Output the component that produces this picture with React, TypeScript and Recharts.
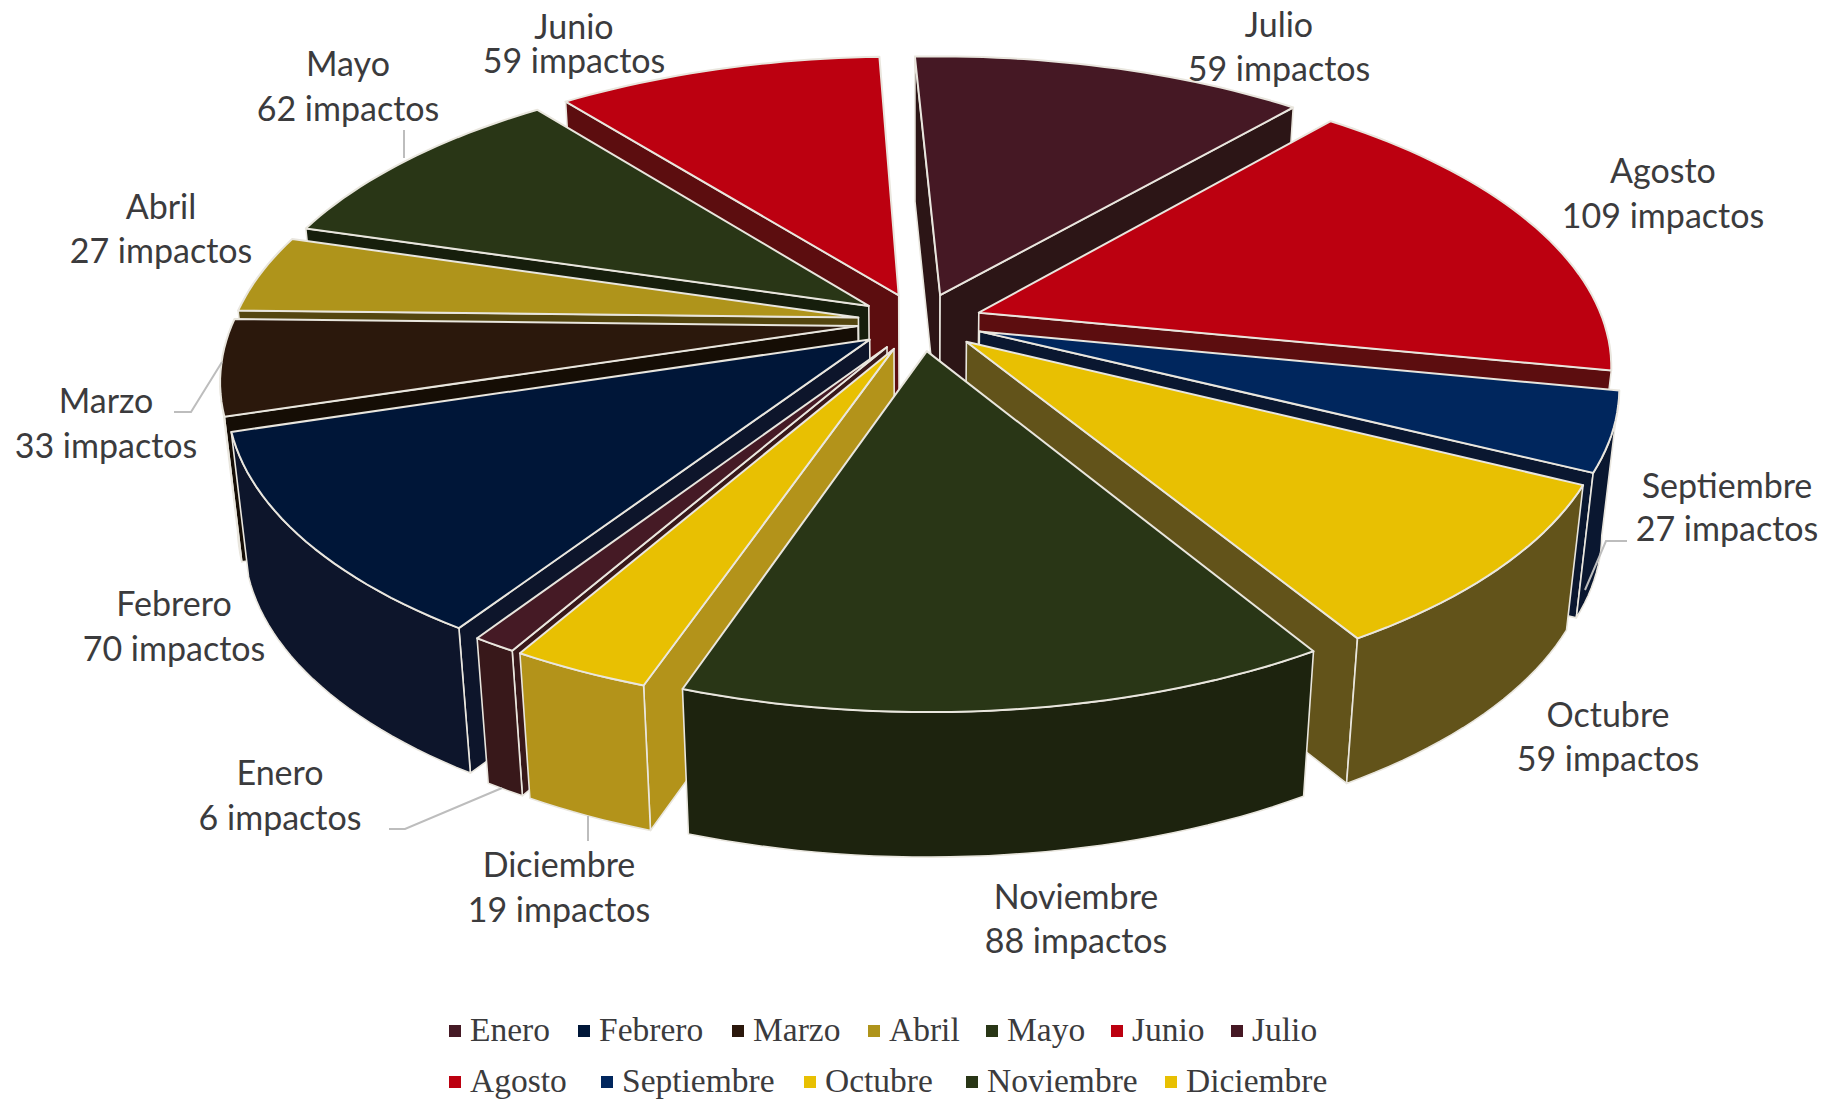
import React from 'react';
import { PieChart, Pie, Legend } from 'recharts';

const months = ['Enero', 'Febrero', 'Marzo', 'Abril', 'Mayo', 'Junio', 'Julio', 'Agosto', 'Septiembre', 'Octubre', 'Noviembre', 'Diciembre'];
// numbers printed on the labels
const impactos = [6, 70, 33, 27, 62, 59, 59, 109, 27, 59, 88, 19];
// sizes of the slices as measured on the drawing: these don't all agree with the labels
// (Julio is labelled 59 but drawn about 76 wide, Junio 59 but about 63)
const sliceValues = [6, 70, 33, 27, 62, 63, 76, 107, 27, 57, 88, 19];
const topColors = ['#451a25', '#001638', '#2b180c', '#af941b', '#293616', '#bc0010', '#451824', '#bc0010', '#00265d', '#e8c002', '#293616', '#e8c002'];
const sideColors = ['#38181a', '#0d152b', '#150d05', '#54460f', '#161e0c', '#5c0d0f', '#2c1516', '#5c0d0f', '#0a1730', '#62531a', '#1d230e', '#b3931a'];

// back to front, the slices overlap each other
const paintOrder = ['Julio', 'Junio', 'Mayo', 'Agosto', 'Abril', 'Marzo', 'Septiembre', 'Febrero', 'Octubre', 'Enero', 'Diciembre', 'Noviembre'];

const tableData = months.map((name, i) => ({ name, value: sliceValues[i], impactos: impactos[i] }));

const WIDTH = 1840;
const HEIGHT = 1101;
const CX = 920;
const CY = 322;
const RADIUS = 625;
const EXPLODE = 0.1;
const TILT = 0.461; // vertical squash of the pie plane
const PERSPECTIVE = 0.171;
const DEPTH = 145;
const BOTTOM_SCALE = 0.975;
const EDGE = '#e9e6de';
const LABEL_COLOR = '#3b3b3d';

// label centres and leader lines, by hand
const labelLayout: Record<string, { x: number; y1: number; y2: number; line?: string }> = {
  Enero: { x: 280, y1: 771, y2: 816, line: '389,829 405,829 502,788' },
  Febrero: { x: 174, y1: 602, y2: 647 },
  Marzo: { x: 106, y1: 399, y2: 444, line: '174,412 191,412 222,362' },
  Abril: { x: 161, y1: 205, y2: 249 },
  Mayo: { x: 348, y1: 62, y2: 107, line: '404,130 404,158' },
  Junio: { x: 574, y1: 25, y2: 59 },
  Julio: { x: 1279, y1: 23, y2: 67 },
  Agosto: { x: 1663, y1: 169, y2: 214 },
  Septiembre: { x: 1727, y1: 484, y2: 527, line: '1627,541 1606,541 1585,590' },
  Octubre: { x: 1608, y1: 713, y2: 757 },
  Noviembre: { x: 1076, y1: 895, y2: 939 },
  Diciembre: { x: 559, y1: 863, y2: 908, line: '588,816 588,841' },
};

const legendLayout: Record<string, { x: number; row: number }> = {
  Enero: { x: 449, row: 0 },
  Febrero: { x: 578, row: 0 },
  Marzo: { x: 732, row: 0 },
  Abril: { x: 868, row: 0 },
  Mayo: { x: 986, row: 0 },
  Junio: { x: 1111, row: 0 },
  Julio: { x: 1231, row: 0 },
  Agosto: { x: 449, row: 1 },
  Septiembre: { x: 601, row: 1 },
  Octubre: { x: 804, row: 1 },
  Noviembre: { x: 966, row: 1 },
  Diciembre: { x: 1165, row: 1 },
};

type Pt = [number, number];
const toPath = (pts: Pt[]) => 'M' + pts.map(p => `${p[0].toFixed(1)},${p[1].toFixed(1)}`).join('L') + 'Z';

// one exploded wedge: radial faces and rim band that face the viewer, then the top
const Wedge = (props: any) => {
  const { cx, cy, outerRadius: R, startAngle, endAngle, index } = props;
  const rad = Math.PI / 180;
  const mid = ((startAngle + endAngle) / 2) * rad;
  const du = EXPLODE * Math.cos(mid);
  const dv = EXPLODE * Math.sin(mid);

  const top = (u: number, v: number): Pt => {
    const w = 1 + PERSPECTIVE * (v + dv);
    return [cx + (R * (u + du)) / w, cy - (R * TILT * (v + dv)) / w];
  };
  const bottom = (p: Pt): Pt => [cx + (p[0] - cx) * BOTTOM_SCALE, p[1] + DEPTH];

  const steps = Math.ceil(Math.abs(startAngle - endAngle) / 1.5);
  const rim: Pt[] = [];
  for (let i = 0; i <= steps; i++) {
    const a = (startAngle + ((endAngle - startAngle) * i) / steps) * rad;
    rim.push(top(Math.cos(a), Math.sin(a)));
  }
  const apex = top(0, 0);
  const first = rim[0];
  const last = rim[rim.length - 1];
  const side = sideColors[index];

  // the part of the rim running right to left on screen is the front of the wedge
  const band: Pt[] = [];
  rim.forEach((p, i) => {
    const prev = rim[i - 1];
    const next = rim[i + 1];
    if ((next && next[0] < p[0]) || (prev && p[0] < prev[0])) band.push(p);
  });

  const faces: Pt[][] = [];
  if (first[0] < apex[0]) faces.push([apex, first, bottom(first), bottom(apex)]);
  if (apex[0] < last[0]) faces.push([last, apex, bottom(apex), bottom(last)]);
  if (band.length > 1) faces.push([...band, ...band.map(bottom).reverse()]);

  return (
    <g>
      {faces.map((pts, i) => (
        <path key={i} d={toPath(pts)} fill={side} stroke={EDGE} strokeWidth={1.6} strokeLinejoin="round" />
      ))}
      <path d={toPath([apex, ...rim])} fill={topColors[index]} stroke={EDGE} strokeWidth={2} strokeLinejoin="round" />
    </g>
  );
};

const renderLabel = (props: any) => {
  const name = months[props.index];
  const box = labelLayout[name];
  return (
    <g key={name}>
      {box.line && <polyline points={box.line} fill="none" stroke="#bdbdbd" strokeWidth={2} />}
      <text x={box.x} y={box.y1} textAnchor="middle" dominantBaseline="central" fontFamily="Lato" fontSize={34} fill={LABEL_COLOR}>
        {name}
      </text>
      <text x={box.x} y={box.y2} textAnchor="middle" dominantBaseline="central" fontFamily="Lato" fontSize={34} fill={LABEL_COLOR}>
        {`${impactos[props.index]} impactos`}
      </text>
    </g>
  );
};

const LegendRows = () => (
  <div style={{ position: 'relative', width: WIDTH, height: 90, fontFamily: '"Liberation Serif"', fontSize: 33.5, color: '#3b3b3d' }}>
    {months.map((name, i) => (
      <div key={name} style={{ position: 'absolute', left: legendLayout[name].x, top: legendLayout[name].row * 51, lineHeight: '40px', whiteSpace: 'nowrap' }}>
        <span style={{ position: 'absolute', left: 0, top: 15, width: 12, height: 12, background: topColors[i] }} />
        <span style={{ marginLeft: 21 }}>{name}</span>
      </div>
    ))}
  </div>
);

const pieProps = {
  data: tableData,
  dataKey: 'value',
  nameKey: 'name',
  cx: CX,
  cy: CY,
  innerRadius: 0,
  outerRadius: RADIUS,
  startAngle: 240.4,
  endAngle: -119.6,
  stroke: 'none',
  isAnimationActive: false,
  legendType: 'none' as const,
};

export default function App() {
  return (
    <div style={{ position: 'absolute', left: 0, top: 0, width: WIDTH, height: HEIGHT, background: '#fff' }}>
      <PieChart width={WIDTH} height={HEIGHT} margin={{ top: 0, right: 0, bottom: 0, left: 0 }}>
        {paintOrder.map(name => (
          <Pie
            key={name}
            {...pieProps}
            shape={(props: any) => (months[props.index] === name ? <Wedge {...props} /> : <g />)}
          />
        ))}
        <Pie {...pieProps} shape={() => <g />} label={renderLabel} labelLine={false} />
        <Legend content={<LegendRows />} wrapperStyle={{ position: 'absolute', left: 0, top: 1010, width: WIDTH }} />
      </PieChart>
    </div>
  );
}
